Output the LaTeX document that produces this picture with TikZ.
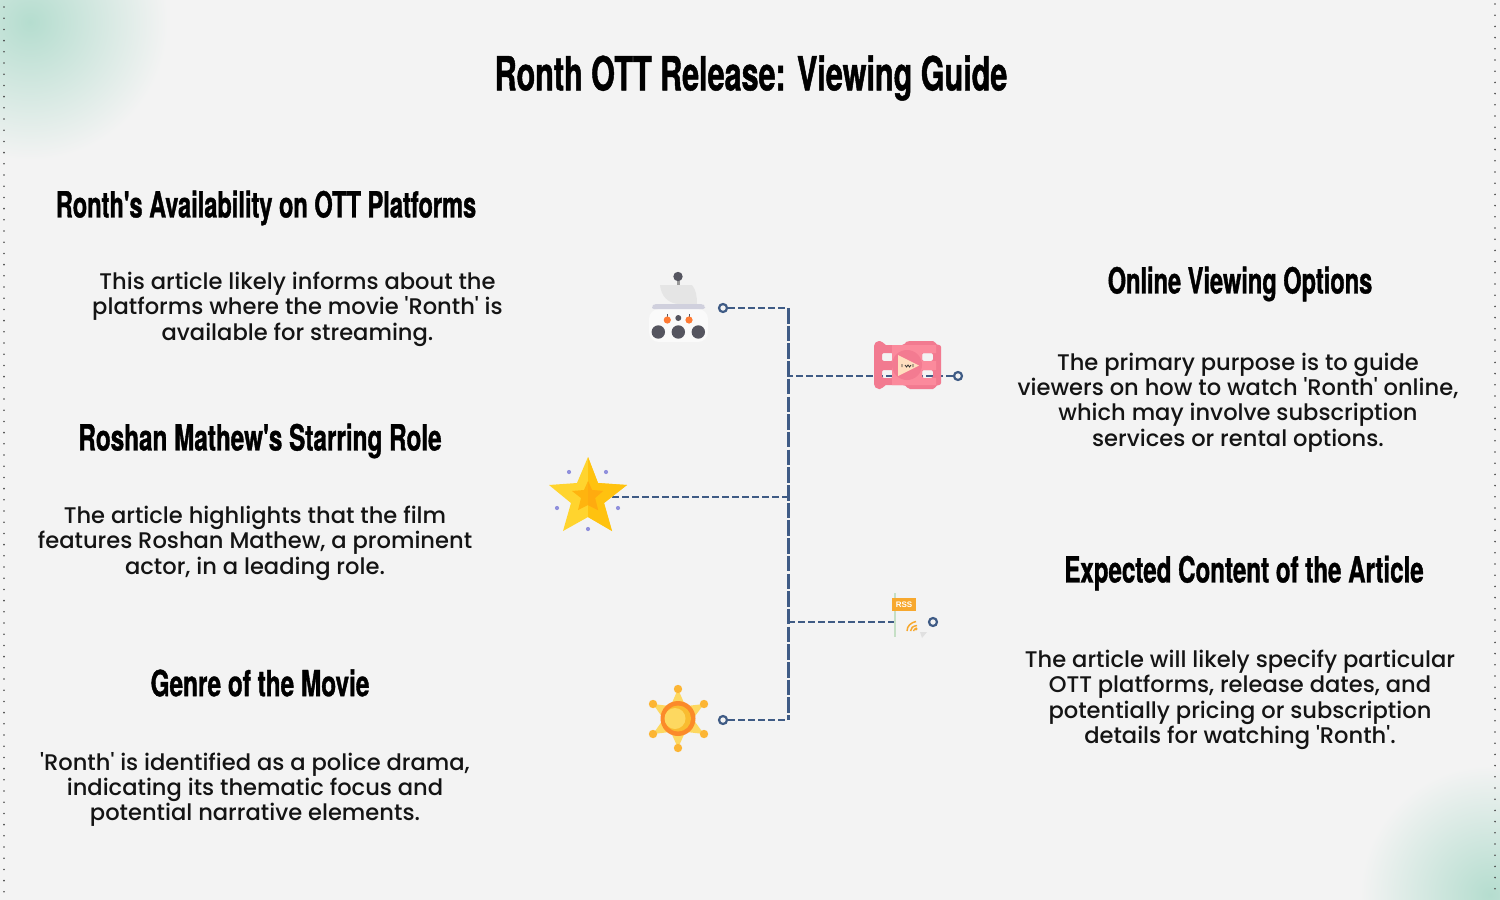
\documentclass[tikz,border=0pt]{standalone}
\usepackage{fontspec}
\usetikzlibrary{calc}
\newfontfamily\bodyfont{Poppins Medium}
\newfontfamily\headfont[FakeStretch=0.655,FakeBold=1.0]{TeX Gyre Heros Bold}
\newfontfamily\rssfont{Liberation Sans Bold}
\definecolor{bgc}{HTML}{F3F3F3}
\definecolor{navy}{HTML}{3F5B85}
\definecolor{mint}{HTML}{B5DDCF}
\definecolor{darkb}{HTML}{55555F}
\definecolor{filmA}{HTML}{F27A90}
\definecolor{filmB}{HTML}{FB8A9C}
\definecolor{starA}{HTML}{FFD42E}
\definecolor{starB}{HTML}{FFC20F}
\definecolor{starC}{HTML}{FFAB0F}
\definecolor{lav}{HTML}{9090DC}
\definecolor{rssc}{HTML}{F7A82E}
\definecolor{sunA}{HTML}{FB8A2A}
\definecolor{sunB}{HTML}{FDD860}
\definecolor{sunC}{HTML}{F9BC30}
\tikzset{
 x=1pt,y=-1pt,
 titletext/.style={font=\headfont\fontsize{47}{50}\selectfont,inner sep=0pt,text=black},
 headtext/.style={font=\headfont\fontsize{36}{40}\selectfont,inner sep=0pt,text=black},
 bodytext/.style={font=\bodyfont\fontsize{22.6}{25.4}\selectfont,align=center,inner sep=0pt,text=black!92},
 ring/.style={circle,draw=navy,line width=2.2pt,fill=bgc,minimum size=8pt,inner sep=0pt},
 hdash/.style={draw=navy,line width=2.6pt,dash pattern=on 7pt off 3pt},
 vdash/.style={draw=navy,line width=3pt,dash pattern=on 15.5pt off 2.2pt},
 anchorpt/.style={inner sep=0pt,minimum size=0pt},
 bgdot/.style={fill=black!70},
}
\begin{document}
\begin{tikzpicture}
\useasboundingbox (0,0) rectangle (1500,900);
\fill[bgc] (0,0) rectangle (1500,900);
\begin{scope}
 \clip (0,0) rectangle (1500,900);
 \shade[inner color=mint,outer color=bgc] (30,22) circle[radius=138pt];
 \shade[inner color=mint,outer color=bgc] (1490,895) circle[radius=130pt];
\end{scope}
\foreach \k in {0,...,79}{
 \fill[bgdot] (4,7+11.2*\k) circle[radius=0.9pt];
 \fill[bgdot] (1495,4+11.2*\k) circle[radius=0.9pt];
}
% text
\node[titletext] (title) at (751,78) {\scalebox{0.992}[1]{Ronth OTT Release: Viewing Guide}};
\node[headtext] (h1) at (266,208) {Ronth's Availability on OTT Platforms};
\node[bodytext] (b1) at (297.5,309) {This article likely informs about the\\platforms where the movie 'Ronth' is\\available for streaming.};
\node[headtext] (h2) at (260,441) {\scalebox{1.03}[1]{Roshan Mathew's Starring Role}};
\node[bodytext] (b2) at (255,543) {The article highlights that the film\\features Roshan Mathew, a prominent\\actor, in a leading role.};
\node[headtext] (h3) at (260,683) {\scalebox{1.033}[1]{Genre of the Movie}};
\node[bodytext] (b3) at (255,789.5) {'Ronth' is identified as a police drama,\\indicating its thematic focus and\\potential narrative elements.};
\node[headtext] (h4) at (1240,284) {Online Viewing Options};
\node[bodytext] (b4) at (1238,402.5) {The primary purpose is to guide\\viewers on how to watch 'Ronth' online,\\which may involve subscription\\services or rental options.};
\node[headtext] (h5) at (1244,573) {\scalebox{1.023}[1]{Expected Content of the Article}};
\node[bodytext] (b5) at (1240,700) {The article will likely specify particular\\OTT platforms, release dates, and\\potentially pricing or subscription\\details for watching 'Ronth'.};
% junction points and ends
\coordinate (top) at (788,308);
\coordinate (bot) at (788,720);
\coordinate (j2) at (788,376);
\coordinate (j3) at (788,497);
\coordinate (j4) at (788,622);
\node[anchorpt] (staricon) at (612,497) {};
\node[anchorpt] (flagicon) at (895,622) {};
\node[ring] (r1) at (723,308) {};
\node[ring] (r2) at (958,376) {};
\node[ring] (r4) at (933,622) {};
\node[ring] (r5) at (723,720) {};
% connectors
\draw[vdash] (top) -- (bot);
\draw[hdash] (r1) -- (top);
\draw[hdash] (r2) -- (j2);
\draw[hdash] (staricon) -- (j3);
\draw[hdash] (flagicon) -- (j4);
\draw[hdash] (r5) -- (bot);
% icon 1: joystick machine
\begin{scope}
 \fill[white!60!bgc,rounded corners=10pt] (649,309) rectangle (708,342);
 \fill[black!40] (676.5,276) rectangle (680,286);
 \fill[black!10!white] (660,285) .. controls (661,296) and (668,303) .. (678,304) -- (697,304) .. controls (697,296) and (696,290) .. (692,285) -- cycle;
 \fill[darkb] (678,276.5) circle[radius=4.7pt];
 \fill[black!14!white!95!blue,rounded corners=2pt] (652,309) -- (652,306) -- (654,304) -- (703,304) -- (705,306) -- (705,309) -- cycle;
 \fill[darkb] (666.7,314) rectangle (667.7,319);
 \fill[darkb] (688.7,314) rectangle (689.7,319);
 \fill[orange!70!red!80!white] (667.3,320) circle[radius=3.6pt];
 \fill[orange!70!red!80!white] (689,320) circle[radius=3.6pt];
 \fill[darkb] (678.3,318) circle[radius=3pt];
 \foreach \xx in {658.3,678.3,698.3} \fill[darkb] (\xx,332) circle[radius=6.7pt];
\end{scope}
% icon 2: film strip
\begin{scope}
 \fill[filmA,even odd rule,rounded corners=2pt]
  (874,344) -- (877,341) -- (882,341) .. controls (884,344) and (886,345) .. (888,345) -- (900,345) .. controls (905,345) and (906,342) .. (908,341) -- (935,341) .. controls (936,344) and (937,345) .. (941,345) -- (941,385) .. controls (937,385) and (936,386) .. (935,389) -- (908,389) .. controls (906,386) and (905,385) .. (900,385) -- (888,385) .. controls (886,385) and (884,386) .. (882,389) -- (877,389) -- (874,386) -- cycle
  (882,353) rectangle (893,361)
  (882,370) rectangle (893,378)
  (922,353) rectangle (933,361)
  (922,370) rectangle (933,378);
 \fill[filmB,even odd rule] (892,345) -- (936,345) -- (936,353) -- (922,353) -- (922,361) -- (936,361) -- (936,370) -- (922,370) -- (922,378) -- (936,378) -- (936,385) -- (892,385) -- cycle;
 \fill[filmA!92!filmB] (907,365) circle[radius=15pt];
 \fill[orange!25!white] (898,355) -- (919,365.5) -- (898,376) -- cycle;
 \draw[black!80,line width=0.8pt] (902,364) -- (902,367) (905,365) -- (906.5,367) -- (908,365) -- (909.5,367) -- (911,365) (913,364) -- (913,367);
\end{scope}
% icon 3: star
\begin{scope}
 \fill[starA] (588,457) -- (598,483) -- (627,485) -- (604,503) -- (612,531) -- (588,517) -- (563,531) -- (571,503) -- (549,485) -- (577,483) -- cycle;
 \fill[starB] (588,457) -- (598,483) -- (627,485) -- (604,503) -- (612,531) -- (588,517) -- cycle;
 \fill[starC!60!starB] (588,481) -- (592,490) -- (603,491) -- (595,498) -- (598,510) -- (588,505) -- (578,510) -- (581,498) -- (572,491) -- (584,490) -- cycle;
 \fill[starC] (588,481) -- (592,490) -- (603,491) -- (595,498) -- (598,510) -- (588,505) -- cycle;
 \foreach \px/\py in {569/472,606/472,557/508,618/508,588/529} \fill[lav] (\px,\py) circle[radius=2.1pt];
\end{scope}
% icon 4: RSS flag
\begin{scope}
 \fill[black!14!white!90!green] (894,593) rectangle (896,637);
 \fill[rssc] (892,598) rectangle (916,611);
 \node[font=\rssfont\fontsize{8}{8}\selectfont,text=white,inner sep=0pt] (rsslabel) at (904,604.7) {RSS};
 \draw[rssc,line width=1.5pt] (907,631) .. controls (907,626) and (911,622.5) .. (916,621.5);
 \draw[rssc,line width=1.5pt] (910.5,631) .. controls (910.5,628) and (913,626) .. (917,625.5);
 \fill[rssc] (916,629) circle[radius=1.6pt];
 \draw[rssc,line width=1.3pt] (913.5,631) .. controls (913.5,630) and (915,628.5) .. (917,628);
 \fill[black!12!white] (920,632) -- (927,632) -- (922,638) -- cycle;
\end{scope}
% icon 5: sun
\begin{scope}
 \foreach \a/\bx/\by in {90/678/689,30/704/704,-30/704/734,-90/678/748,-150/653/734,150/653/704}{
  \fill[sunB] ($(678,719)+(\a+90:13pt)$) -- (\bx,\by) -- ($(678,719)+(\a-90:13pt)$) -- cycle;
 }
 \foreach \bx/\by in {678/689,704/704,704/734,678/748,653/734,653/704} \fill[sunA!70!yellow!90!white] (\bx,\by) circle[radius=4.2pt];
 \fill[sunA] (678,718.5) circle[radius=17.5pt];
 \fill[sunC] (678,718.5) circle[radius=13pt];
 \fill[sunB] (675,718.5) circle[radius=10.5pt];
\end{scope}
\end{tikzpicture}
\end{document}
